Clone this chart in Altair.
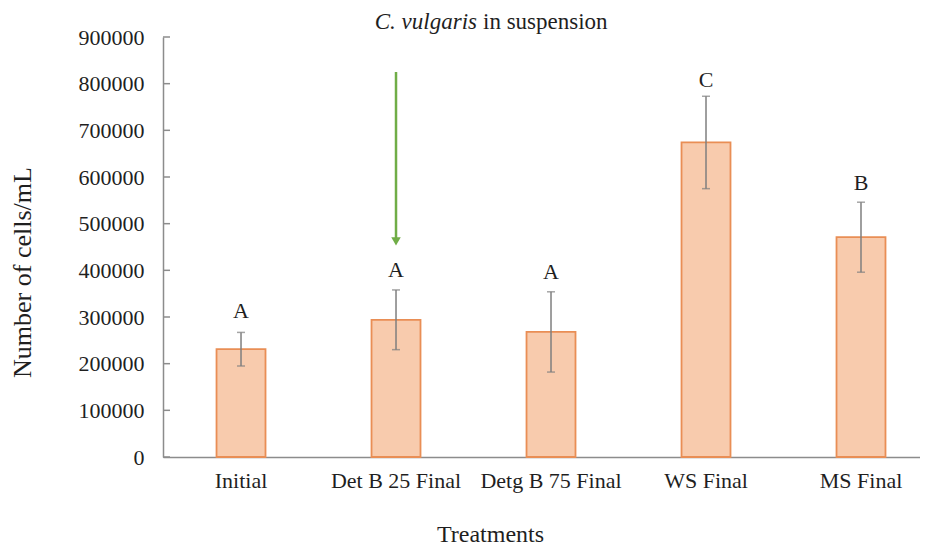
import altair as alt
import pandas as pd

categories = ["Initial", "Det B 25 Final", "Detg B 75 Final", "WS Final", "MS Final"]
means = [231000, 294000, 268000, 674000, 471000]
errors = [36000, 64000, 86000, 99000, 75000]
letters = ["A", "A", "A", "C", "B"]
letter_pos = [298000, 386000, 381000, 793000, 572000]
y_ticks = [0, 100000, 200000, 300000, 400000, 500000, 600000, 700000, 800000, 900000]
arrow_cat = ["Det B 25 Final"]
arrow_top = [825000]
arrow_tip = [462000]

FONT = "Liberation Serif"
TXT = "#1f1f1f"

df = pd.DataFrame({
    "cat": categories,
    "mean": means,
    "lo": [m - e for m, e in zip(means, errors)],
    "hi": [m + e for m, e in zip(means, errors)],
    "letter": letters,
    "lpos": letter_pos,
})

xscale = alt.Scale(domain=categories, paddingInner=0.684, paddingOuter=0.284, align=0.608)
yscale = alt.Scale(domain=[0, 900000], nice=False)

x_axis = alt.Axis(
    title="Treatments", labelAngle=0, ticks=False, domainColor="#8c8c8c", domainWidth=1.5,
    labelFont=FONT, labelFontSize=22, labelColor=TXT, labelPadding=13,
    titleFont=FONT, titleFontSize=24, titleFontWeight="normal", titleColor=TXT,
    titleX=327, titleY=84, titleAlign="center", titleBaseline="alphabetic",
)
y_axis = alt.Axis(
    title="Number of cells/mL", values=y_ticks, format="d", ticks=False, grid=False,
    domainColor="#8c8c8c", domainWidth=1.5,
    labelFont=FONT, labelFontSize=22, labelColor=TXT, labelPadding=19,
    titleFont=FONT, titleFontSize=26, titleFontWeight="normal", titleColor=TXT,
    titleX=-141, titleY=235, titleAngle=270, titleAlign="center", titleBaseline="middle",
)

base = alt.Chart(df)

bars = base.mark_bar(fill="#F8CBAD", stroke="#E98E55", strokeWidth=1.8).encode(
    x=alt.X("cat:N", scale=xscale, axis=x_axis, sort=categories),
    y=alt.Y("mean:Q", scale=yscale, axis=y_axis),
)

err = base.mark_rule(color="#7f7f7f", strokeWidth=1.5).encode(
    x=alt.X("cat:N", scale=xscale, sort=categories),
    y=alt.Y("lo:Q", scale=yscale),
    y2="hi:Q",
)
cap_hi = base.mark_tick(color="#7f7f7f", thickness=1.5, size=8, orient="horizontal").encode(
    x=alt.X("cat:N", scale=xscale, sort=categories),
    y=alt.Y("hi:Q", scale=yscale),
)
cap_lo = base.mark_tick(color="#7f7f7f", thickness=1.5, size=8, orient="horizontal").encode(
    x=alt.X("cat:N", scale=xscale, sort=categories),
    y=alt.Y("lo:Q", scale=yscale),
)

labels = base.mark_text(font=FONT, fontSize=22, color=TXT, baseline="alphabetic").encode(
    x=alt.X("cat:N", scale=xscale, sort=categories),
    y=alt.Y("lpos:Q", scale=yscale),
    text="letter:N",
)

tick_df = pd.DataFrame({"v": y_ticks})
yticks = alt.Chart(tick_df).mark_rule(color="#8c8c8c", strokeWidth=1.5).encode(
    x=alt.value(0), x2=alt.value(7),
    y=alt.Y("v:Q", scale=yscale),
)

arrow_df = pd.DataFrame({"cat": arrow_cat, "top": arrow_top, "tip": arrow_tip})
arrow_line = alt.Chart(arrow_df).mark_rule(color="#70AD47", strokeWidth=2.5).encode(
    x=alt.X("cat:N", scale=xscale, sort=categories),
    y=alt.Y("top:Q", scale=yscale),
    y2="tip:Q",
)
arrow_head = alt.Chart(arrow_df).mark_point(
    shape="triangle-down", filled=True, color="#70AD47", size=90, opacity=1
).encode(
    x=alt.X("cat:N", scale=xscale, sort=categories),
    y=alt.Y("tip:Q", scale=yscale),
)

title_it = alt.Chart(pd.DataFrame({"t": ["C. vulgaris"]})).mark_text(
    font=FONT, fontSize=23, fontStyle="italic", color=TXT, align="right", baseline="alphabetic"
).encode(x=alt.value(314), y=alt.value(-8), text="t:N")
title_rm = alt.Chart(pd.DataFrame({"t": ["in suspension"]})).mark_text(
    font=FONT, fontSize=23, color=TXT, align="left", baseline="alphabetic"
).encode(x=alt.value(320), y=alt.value(-8), text="t:N")

chart = alt.layer(
    bars, err, cap_hi, cap_lo, labels, yticks, arrow_line, arrow_head, title_it, title_rm
).properties(
    width=757, height=420,
    autosize=alt.AutoSizeParams(type="none"),
    padding={"left": 155, "top": 29, "right": 0, "bottom": 90},
    background="white",
).configure_view(stroke=None)

chart.save("out.html", embed_options={"renderer": "svg", "actions": False})
